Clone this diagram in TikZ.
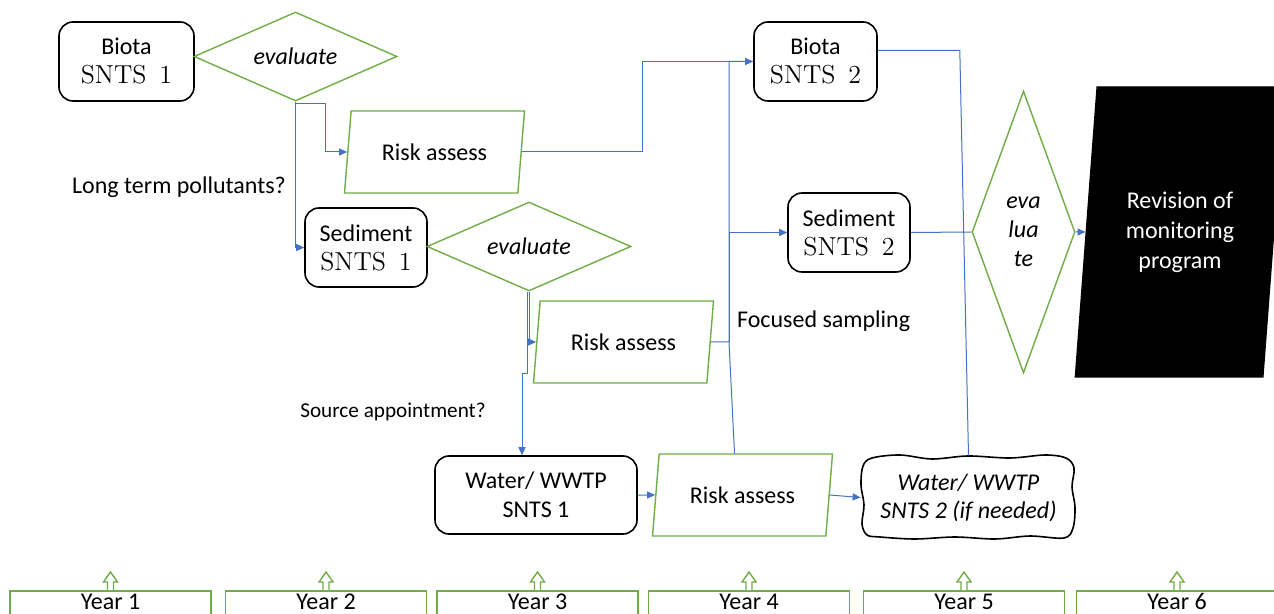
\documentclass[tikz,border=0pt]{standalone}
\usepackage{fontspec}
\newfontfamily\calib{Carlito}
\usetikzlibrary{shapes.geometric,arrows.meta,calc}
\definecolor{linkblue}{HTML}{4472C4}
\definecolor{boxgreen}{HTML}{70AD47}
\tikzset{
  txt/.style={font=\calib\fontsize{12}{14.5}\selectfont, align=center},
  sampbox/.style={txt, draw, rounded corners=7pt, line width=0.8pt, inner sep=0pt},
  evalbox/.style={txt, diamond, draw=boxgreen, line width=0.7pt, inner sep=0pt,
    font=\calib\itshape\fontsize{12}{14.5}\selectfont},
  riskbox/.style={txt, trapezium, trapezium left angle=76, trapezium right angle=104,
    trapezium stretches=true, draw=boxgreen, line width=0.7pt, inner sep=0pt,
    minimum width=90.5pt, minimum height=41pt},
  conn/.style={draw=linkblue, line width=0.5pt},
  tip/.style={-{Triangle[length=4pt,width=3.5pt]}},
  yearbox/.style={txt, draw=boxgreen, line width=0.8pt, anchor=north,
    minimum width=100.5pt, inner ysep=2pt, text height=7.5pt, text depth=3pt},
  yarrow/.style={draw=boxgreen, fill=white, line width=0.7pt}
}
\newcommand{\snts}[1]{{\rmfamily\fontsize{13}{14.5}\selectfont SNTS~\,#1}}
\begin{document}
\begin{tikzpicture}[x=0.5pt, y=-0.5pt]
    \useasboundingbox (0,0) rectangle (1274,614);
    \clip (0,0) rectangle (1274,614);

    % First round
    \node[sampbox, minimum width=67.5pt, minimum height=39.5pt] (bio1) at (126.5,61.5)
        {Biota\\\snts{1}};
    \node[evalbox, shape aspect=2.28, minimum width=101.5pt, minimum height=44.5pt] (eval1)
        at (295.5,56.5) {evaluate};
    \node[riskbox] (ra1) at (434.5,152) {Risk assess};
    \node[sampbox, minimum width=61pt, minimum height=39.5pt] (sed1) at (366,247.5)
        {Sediment\\\snts{1}};
    \node[evalbox, shape aspect=2.29, minimum width=102pt, minimum height=44.5pt] (eval2)
        at (529,246.5) {evaluate};
    \node[riskbox] (ra2) at (623.5,342) {Risk assess};
    \node[sampbox, minimum width=101pt, minimum height=39pt] (water1) at (536,495)
        {Water/ WWTP\\SNTS 1};
    \node[riskbox] (ra3) at (742.5,495) {Risk assess};

    % Second round
    \node[sampbox, minimum width=61.5pt, minimum height=39.5pt] (bio2) at (815.5,61.5)
        {Biota\\\snts{2}};
    \node[sampbox, minimum width=61pt, minimum height=39.5pt] (sed2) at (849,232.5)
        {Sediment\\\snts{2}};
    \node[txt, font=\calib\itshape\fontsize{12}{14}\selectfont, inner sep=0pt,
        minimum width=106.5pt, minimum height=40.5pt] (water2) at (968.5,497.5)
        {Water/ WWTP\\SNTS 2 (if needed)};
    % hand drawn outline
    \draw[line width=0.8pt] plot[smooth cycle, tension=0.55] coordinates {
        (872,458) (900,455) (932,459) (968,456) (1010,458) (1045,455) (1066,458)
        (1074,468) (1072,487) (1075,507) (1073,528)
        (1064,538) (1030,536) (995,539) (955,537) (915,539) (880,537) (867,535)
        (862,524) (864,505) (861,485) (863,466)};
    \node[evalbox, shape aspect=0.365, minimum width=51.5pt, minimum height=141pt] (eval3)
        at (1023.5,232) {eva\\lua\\te};
    \node[riskbox, trapezium left angle=80, trapezium right angle=100, draw=black, fill=black,
        text=white, minimum width=105pt, minimum height=145pt,
        font=\calib\fontsize{12}{15}\selectfont] (rev) at (1180,232)
        {Revision of\\monitoring\\program};

    % Labels
    \node[txt] (lbllong) at (179,187) {Long term pollutants?};
    \node[txt, font=\calib\fontsize{10.6}{13}\selectfont] (lblsource) at (393,412)
        {Source appointment?};
    \node[txt, anchor=west] (lblfocus) at (730,321) {Focused sampling};

    % Connectors
    \draw[conn, tip] (eval1.south) -- ++(0,2) -- ++(30,0) |- (ra1.west);
    \draw[conn, tip] (eval1.south) |- (sed1.west);
    \draw[conn, tip] (eval2.south) |- (ra2.west);
    \draw[conn, tip] ($(eval2.south)+(-2,0)$) -- ++(0,82) -| ($(water1.north)+(-14,0)$);
    \draw[conn, tip] (ra1.east) -- ++(121,0) |- (bio2.west);
    \coordinate (fjoin) at (729,342);
    \draw[conn] (ra2.east) -- (fjoin) |- (bio2.west);
    \draw[conn, tip] (fjoin) |- (sed2.west);
    \draw[conn] ($(ra3.north)+(-8,0)$) -- (fjoin);
    \draw[conn, tip] (water1.east) -- (ra3.west);
    \draw[conn, tip] (ra3.east) -- ($(water2.west)+(-1,0)$);
    \draw[conn] ($(bio2.east)+(0,-11)$) -- ++(82,0) -- ($(water2.north)+(0,-1)$);
    \draw[conn] (sed2.east) -- (eval3.west);
    \draw[conn, tip] (eval3.east) -- (rev.west);

    % Years
    \foreach \i/\x in {1/110.5, 2/326, 3/537.5, 4/749, 5/964, 6/1177} {
        \node[yearbox] (year\i) at (\x,590) {Year \i};
        \draw[yarrow] (year\i.north) ++(-3,0) -- ++(0,-8) -- ++(-4,0) -- ++(7,-10)
            -- ++(7,10) -- ++(-4,0) -- ++(0,8);
    }
\end{tikzpicture}
\end{document}
